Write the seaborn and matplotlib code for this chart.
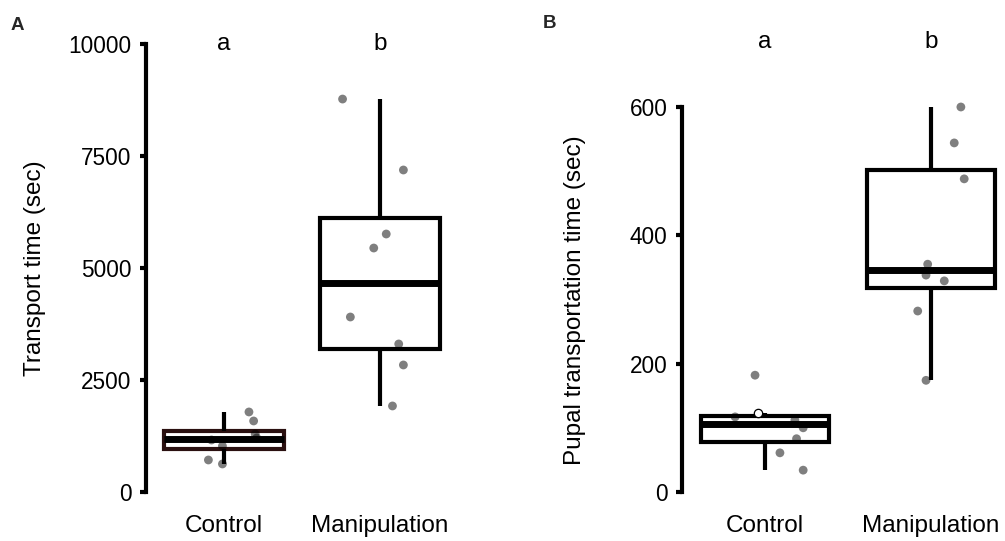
import numpy as np
import pandas as pd
import matplotlib
matplotlib.use("Agg")
import matplotlib.pyplot as plt
import seaborn as sns

sns.set_theme(style="white")
plt.rcParams['font.family'] = ['Liberation Sans', 'DejaVu Sans']

groups = ["Control", "Manipulation"]

# Panel A: transport time (sec)
a_control = [1786, 1585, 1295, 1205, 1160, 1027, 714, 625]
a_manip = [8772, 7188, 5759, 5446, 3906, 3304, 2835, 1920]
a_control_jit = [0.16, 0.19, 0.20, 0.21, -0.08, -0.01, -0.10, -0.01]
a_manip_jit = [-0.24, 0.15, 0.04, -0.04, -0.19, 0.12, 0.15, 0.08]
a_ticks = [0, 2500, 5000, 7500, 10000]
a_letters = ["a", "b"]

# Panel B: pupal transportation time (sec)
b_control = [117, 123, 112, 100, 83, 61, 34, 182]
b_manip = [600, 544, 488, 355, 338, 329, 282, 174]
b_control_jit = [-0.18, -0.04, 0.18, 0.23, 0.19, 0.09, 0.23, -0.06]
b_manip_jit = [0.18, 0.14, 0.20, -0.02, -0.03, 0.08, -0.08, -0.03]
b_control_hollow = [False, True, False, False, False, False, False, False]
b_ticks = [0, 200, 400, 600]
b_letters = ["a", "b"]

W, H = 1005, 541
fig = plt.figure(figsize=(W / 100, H / 100), dpi=100)


def make_df(ctrl, manip, cj, mj):
    return pd.DataFrame({
        "group": ["Control"] * len(ctrl) + ["Manipulation"] * len(manip),
        "value": ctrl + manip,
        "xpos": [0 + j for j in cj] + [1 + j for j in mj],
    })


def draw(ax, df, ticks, ylim, letters, letter_y, ylabel, label_coords,
         box_colors, hollow=None):
    sns.boxplot(data=df, x="group", y="value", order=groups, ax=ax,
                width=0.77, color="white", linewidth=3.0, showfliers=False,
                showcaps=False, linecolor="black",
                medianprops=dict(linewidth=5.0, color="black"),
                whiskerprops=dict(linewidth=3.0),
                boxprops=dict(linewidth=3.0))
    for patch, c in zip(ax.patches, box_colors):
        patch.set_edgecolor(c)
    mask = np.array(hollow) if hollow is not None else np.zeros(len(df), bool)
    filled = df[~mask]
    sns.scatterplot(data=filled, x="xpos", y="value", ax=ax, color="black",
                    alpha=0.5, s=40, edgecolor="none", legend=False, zorder=5)
    if mask.any():
        hol = df[mask]
        sns.scatterplot(data=hol, x="xpos", y="value", ax=ax, facecolor="white",
                        edgecolor="black", linewidth=0.9, s=36, legend=False,
                        zorder=4)
    ax.set_xlim(-0.5, 1.5)
    ax.set_ylim(*ylim)
    ax.set_yticks(ticks)
    ax.set_yticklabels([str(t) for t in ticks], fontsize=16.3)
    ax.set_xticks([0, 1])
    ax.set_xticklabels(groups, fontsize=17.5)
    for s in ["top", "right", "bottom"]:
        ax.spines[s].set_visible(False)
    ax.spines["left"].set_linewidth(3.0)
    ax.spines["left"].set_color("black")
    ax.spines["left"].set_bounds(ticks[0], ticks[-1])
    ax.spines["left"].set_capstyle("projecting")
    ax.tick_params(axis="y", which="major", left=True, length=4.5, width=3.0,
                   color="black", pad=6, labelcolor="black")
    ax.tick_params(axis="x", bottom=False, pad=1, labelcolor="black")
    ax.set_xlabel("")
    ax.set_ylabel(ylabel, fontsize=17.5, color="black")
    ax.yaxis.set_label_coords(*label_coords)
    for i, l in enumerate(letters):
        ax.text(i, letter_y, l, ha="center", va="center", fontsize=17.5,
                color="black")
    ax.grid(False)


# Panel A axes
axA = fig.add_axes([146 / W, 1 - 505.4 / H, 312 / W, (505.4 - 30.6) / H])
axA.patch.set_alpha(0)
dfA = make_df(a_control, a_manip, a_control_jit, a_manip_jit)
draw(axA, dfA, a_ticks, (-300, 10300), a_letters, 10000,
     "Transport time (sec)", (-0.32, 0.5), ["#2a1010", "black"])

# Panel B axes
axB = fig.add_axes([682 / W, 1 - 504.8 / H, 332 / W, (504.8 - 30.0) / H])
axB.patch.set_alpha(0)
dfB = make_df(b_control, b_manip, b_control_jit, b_manip_jit)
draw(axB, dfB, b_ticks, (-20, 720), b_letters, 701,
     "Pupal transportation time (sec)", (-0.289, 0.43), ["black", "black"],
     hollow=b_control_hollow + [False] * len(b_manip))

fig.text(17 / W, 1 - 26 / H, "A", fontsize=13.5, fontweight="bold",
         ha="center", va="center")
fig.text(549 / W, 1 - 23 / H, "B", fontsize=13.5, fontweight="bold",
         ha="center", va="center")

fig.savefig("out.png", dpi=100, facecolor="white")
